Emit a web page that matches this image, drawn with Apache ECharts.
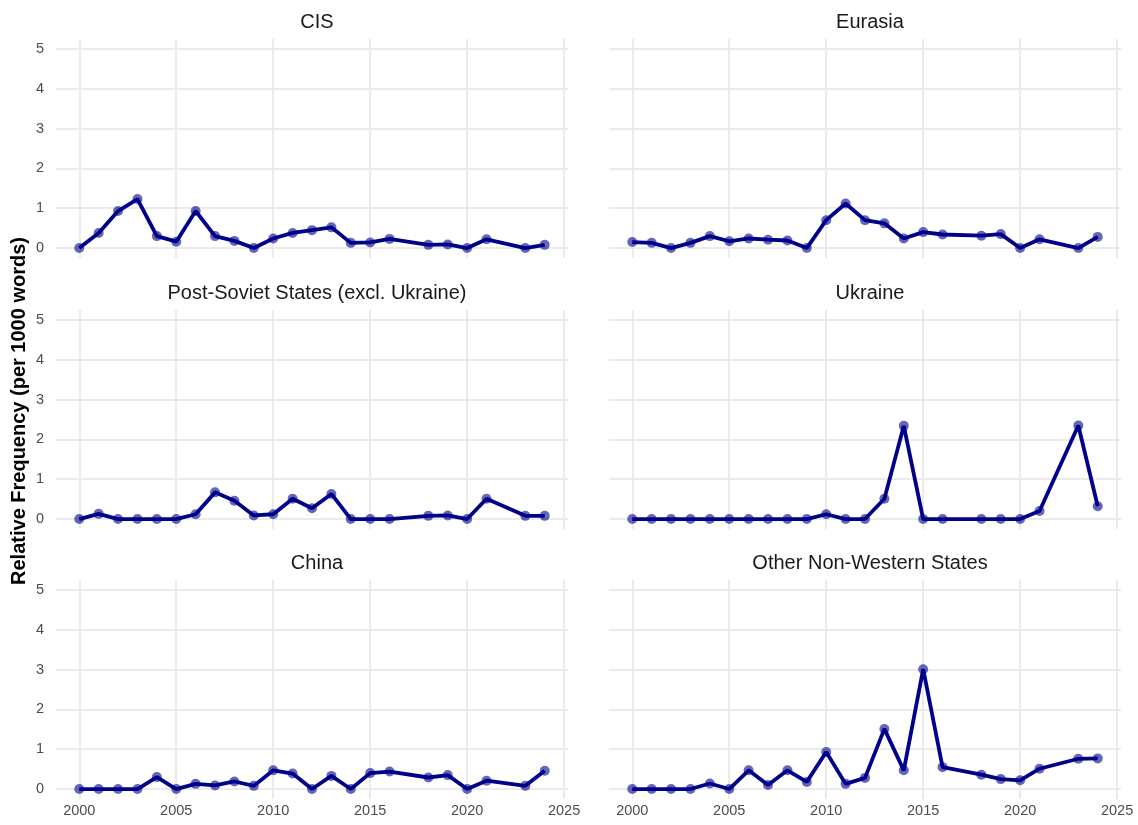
<!DOCTYPE html>
<html>
<head>
<meta charset="utf-8">
<script src="https://cdn.jsdelivr.net/npm/echarts@6/dist/echarts.min.js"></script>
<style>
  html, body { margin: 0; padding: 0; background: #fff; }
  #chart { width: 1138px; height: 825px; }
</style>
</head>
<body>
<div id="chart"></div>
<script>
// years with data (2017 and 2022 are absent)
const years = [2000, 2001, 2002, 2003, 2004, 2005, 2006, 2007, 2008, 2009, 2010, 2011,
  2012, 2013, 2014, 2015, 2016, 2018, 2019, 2020, 2021, 2023, 2024]

const panelNames = ['CIS', 'Eurasia', 'Post-Soviet States (excl. Ukraine)', 'Ukraine', 'China', 'Other Non-Western States']

const cis = [0, 0.38, 0.93, 1.23, 0.30, 0.16, 0.93, 0.30, 0.18, 0, 0.24, 0.38,
  0.45, 0.52, 0.13, 0.14, 0.23, 0.08, 0.09, 0, 0.22, 0, 0.08]
const eurasia = [0.15, 0.13, 0, 0.13, 0.30, 0.17, 0.24, 0.21, 0.19, 0, 0.70, 1.12,
  0.70, 0.62, 0.24, 0.40, 0.34, 0.31, 0.35, 0, 0.22, 0, 0.28]
const postSoviet = [0, 0.13, 0, 0, 0, 0, 0.12, 0.67, 0.46, 0.09, 0.12, 0.51,
  0.27, 0.63, 0, 0, 0, 0.08, 0.09, 0, 0.51, 0.08, 0.08]
const ukraine = [0, 0, 0, 0, 0, 0, 0, 0, 0, 0, 0.12, 0,
  0, 0.51, 2.34, 0, 0, 0, 0, 0, 0.20, 2.35, 0.32]
const china = [0, 0, 0, 0, 0.30, 0, 0.13, 0.09, 0.19, 0.08, 0.47, 0.39,
  0, 0.33, 0, 0.40, 0.44, 0.29, 0.35, 0, 0.21, 0.08, 0.46]
const otherNonWestern = [0, 0, 0, 0, 0.14, 0, 0.47, 0.10, 0.47, 0.18, 0.93, 0.13,
  0.28, 1.51, 0.47, 3.01, 0.55, 0.36, 0.25, 0.22, 0.51, 0.76, 0.77]

const xTicks = [2000, 2005, 2010, 2015, 2020, 2025]
const yTicks = [0, 1, 2, 3, 4, 5]

const allSeries = [cis, eurasia, postSoviet, ukraine, china, otherNonWestern]

const chart = echarts.init(document.getElementById('chart'))

const lefts = [56, 609]
const tops = [39, 310, 580]
const W = 512
const H = 219
const font = '"Liberation Sans", Arial, sans-serif'
const gridColor = '#ebebeb'

const grids = [], xAxes = [], yAxes = [], series = [], titles = []
allSeries.forEach((vals, i) => {
  const col = i % 2
  const row = Math.floor(i / 2)
  grids.push({ left: lefts[col], top: tops[row], width: W, height: H })
  titles.push({
    text: panelNames[i],
    left: lefts[col] + W / 2,
    top: tops[row] - 32,
    textAlign: 'center',
    textStyle: { fontFamily: font, fontSize: 20, fontWeight: 'normal', color: '#1a1a1a' }
  })
  xAxes.push({
    type: 'value',
    gridIndex: i,
    min: 1998.8,
    max: 2025.2,
    axisLine: { show: false },
    axisTick: { show: false, customValues: xTicks },
    axisLabel: {
      show: row === 2,
      customValues: xTicks,
      formatter: v => String(v),
      color: '#4d4d4d',
      fontFamily: font,
      fontSize: 14.5,
      margin: 4
    },
    splitLine: { show: true, lineStyle: { color: gridColor, width: 2 } }
  })
  yAxes.push({
    type: 'value',
    gridIndex: i,
    min: -0.25,
    max: 5.25,
    axisLine: { show: false },
    axisTick: { show: false, customValues: yTicks },
    axisLabel: {
      show: col === 0,
      customValues: yTicks,
      color: '#4d4d4d',
      fontFamily: font,
      fontSize: 14.5,
      margin: 12
    },
    splitLine: { show: true, lineStyle: { color: gridColor, width: 2 } }
  })
  series.push({
    type: 'line',
    xAxisIndex: i,
    yAxisIndex: i,
    data: years.map((y, k) => [y, vals[k]]),
    symbol: 'circle',
    symbolSize: 10,
    lineStyle: { color: '#00008b', width: 3.8 },
    itemStyle: { color: 'rgba(0,0,139,0.6)', borderWidth: 0 },
    emphasis: { disabled: true },
    animation: false
  })
})

chart.setOption({
  animation: false,
  title: titles,
  grid: grids,
  xAxis: xAxes,
  yAxis: yAxes,
  series: series,
  graphic: [{
    type: 'text',
    x: 19,
    y: 411,
    rotation: Math.PI / 2,
    style: {
      text: 'Relative Frequency (per 1000 words)',
      font: 'bold 20px ' + font,
      fill: '#000',
      textAlign: 'center',
      textVerticalAlign: 'middle'
    }
  }]
})
</script>
</body>
</html>
